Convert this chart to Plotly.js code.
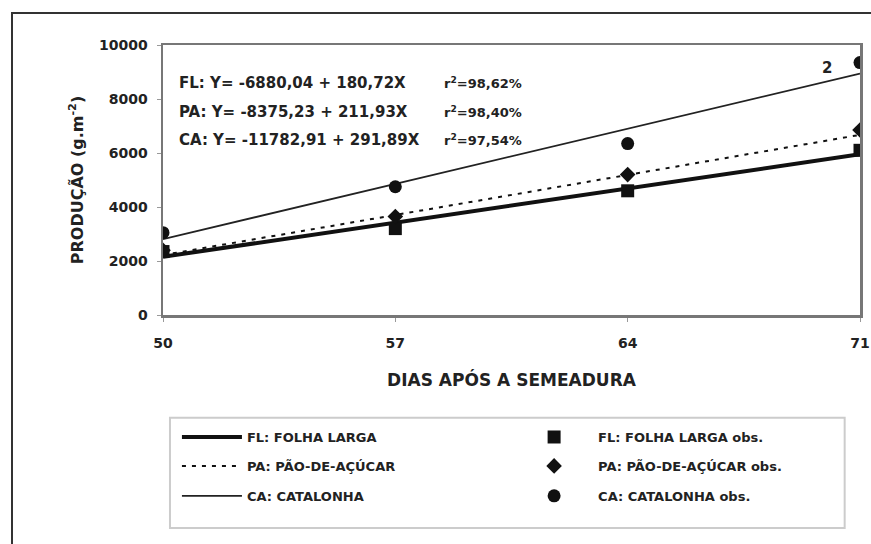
<!DOCTYPE html>
<html>
<head>
<meta charset="utf-8">
<script src="https://cdn.plot.ly/plotly-3.0.1.min.js"></script>
<style>
html,body{margin:0;padding:0;background:#fff;overflow:hidden;}
#chart{width:871px;height:544px;position:relative;}
#frame{position:absolute;left:11px;top:12px;width:900px;height:600px;border:2px solid #333;pointer-events:none;z-index:10;}
</style>
</head>
<body>
<div id="chart"></div>
<div id="frame"></div>
<script>
// Days after sowing
const days = [50, 57, 64, 71];
const fitDays = [50, 71];
const obsFL = [2350, 3200, 4600, 6100];
const obsPA = [2400, 3650, 5200, 6850];
const obsCA = [3050, 4750, 6350, 9350];
// Fitted regression line values at 50 and 71 days
const fitFL = [2156, 5951];
const fitPA = [2221, 6672];
const fitCA = [2812, 8941];
// Labels
const names = ['FL: FOLHA LARGA', 'PA: PÃO-DE-AÇÚCAR', 'CA: CATALONHA'];
const equations = ['FL: Y= -6880,04 + 180,72X', 'PA: Y= -8375,23 + 211,93X', 'CA: Y= -11782,91 + 291,89X'];
const r2 = ['98,62%', '98,40%', '97,54%'];
const xTicks = [50, 57, 64, 71];
const yTicks = [0, 2000, 4000, 6000, 8000, 10000];

const FONT = 'DejaVu Sans, Liberation Sans, Arial, sans-serif';
const C = '#222';

const traces = [
  {x: fitDays, y: fitFL, mode: 'lines', name: names[0], legend: 'legend', line: {color: '#111', width: 4}},
  {x: days, y: obsFL, mode: 'markers', name: names[0] + ' obs.', legend: 'legend2', marker: {symbol: 'square', size: 13, color: '#111'}},
  {x: fitDays, y: fitPA, mode: 'lines', name: names[1], legend: 'legend3', line: {color: '#111', width: 2, dash: '4px,6px'}},
  {x: days, y: obsPA, mode: 'markers', name: names[1] + ' obs.', legend: 'legend4', marker: {symbol: 'diamond', size: 12, color: '#111'}},
  {x: fitDays, y: fitCA, mode: 'lines', name: names[2], legend: 'legend5', line: {color: '#222', width: 1.8}},
  {x: days, y: obsCA, mode: 'markers', name: names[2] + ' obs.', legend: 'legend6', marker: {symbol: 'circle', size: 13, color: '#111'}}
];

const eqY = [0.859, 0.752, 0.648];
const annotations = [];
for (let i = 0; i < 3; i++) {
  annotations.push({xref: 'paper', yref: 'paper', x: 0.02, y: eqY[i], xanchor: 'left', yanchor: 'middle',
    text: equations[i], showarrow: false, font: {family: FONT, size: 15, color: C, weight: 'bold'}});
  annotations.push({xref: 'paper', yref: 'paper', x: 0.4, y: eqY[i], xanchor: 'left', yanchor: 'middle',
    text: 'r<sup>2</sup>=' + r2[i], showarrow: false, font: {family: FONT, size: 13, color: C, weight: 'bold'}});
}
annotations.push({xref: 'paper', yref: 'paper', x: 0.953, y: 0.915, xanchor: 'center', yanchor: 'middle',
  text: '2', showarrow: false, font: {family: FONT, size: 15, color: C, weight: 'bold'}});

function legendAt(x, y, iw) {
  return {
    orientation: 'v', x: x, xanchor: 'left', y: y, yanchor: 'middle',
    bgcolor: 'rgba(0,0,0,0)', borderwidth: 0, itemwidth: iw,
    font: {family: FONT, size: 13, color: C, weight: 'bold'}
  };
}
const rowY = [-0.452, -0.559, -0.670];
const colX = [0.02, 0.498];

const layout = {
  width: 871, height: 544,
  paper_bgcolor: '#fff', plot_bgcolor: '#fff',
  margin: {l: 163, r: 11, t: 45, b: 229},
  font: {family: FONT, size: 14, color: C, weight: 'bold'},
  xaxis: {
    range: [50, 71], tickvals: xTicks, ticktext: xTicks.map(String),
    showgrid: false, zeroline: false, showline: true, mirror: true,
    linecolor: '#777', linewidth: 2.5, ticks: 'outside', ticklen: 4, tickcolor: '#999',
    ticklabelstandoff: 10,
    tickfont: {family: FONT, size: 14, color: C, weight: 'bold'},
    title: {text: 'DIAS APÓS A SEMEADURA', standoff: 24, font: {family: FONT, size: 17, color: C, weight: 'bold'}}
  },
  yaxis: {
    range: [0, 10000], tickvals: yTicks, ticktext: yTicks.map(String),
    showgrid: false, zeroline: false, showline: true, mirror: true,
    linecolor: '#777', linewidth: 2.5, ticks: 'outside', ticklen: 4, tickcolor: '#999',
    ticklabelstandoff: 6,
    tickfont: {family: FONT, size: 14, color: C, weight: 'bold'},
    title: {text: 'PRODUÇÃO (g.m<sup>-2</sup>)', standoff: 12, font: {family: FONT, size: 16, color: C, weight: 'bold'}}
  },
  showlegend: true,
  legend: legendAt(colX[0], rowY[0], 60),
  legend2: legendAt(colX[1], rowY[0], 78),
  legend3: legendAt(colX[0], rowY[1], 60),
  legend4: legendAt(colX[1], rowY[1], 78),
  legend5: legendAt(colX[0], rowY[2], 60),
  legend6: legendAt(colX[1], rowY[2], 78),
  shapes: [{type: 'rect', xref: 'paper', yref: 'paper', x0: 0.010, x1: 0.978, y0: -0.381, y1: -0.789,
    line: {color: '#ccc', width: 2}, fillcolor: 'rgba(0,0,0,0)', layer: 'below'}],
  annotations: annotations
};

Plotly.newPlot('chart', traces, layout, {displayModeBar: false, staticPlot: true});
</script>
</body>
</html>
